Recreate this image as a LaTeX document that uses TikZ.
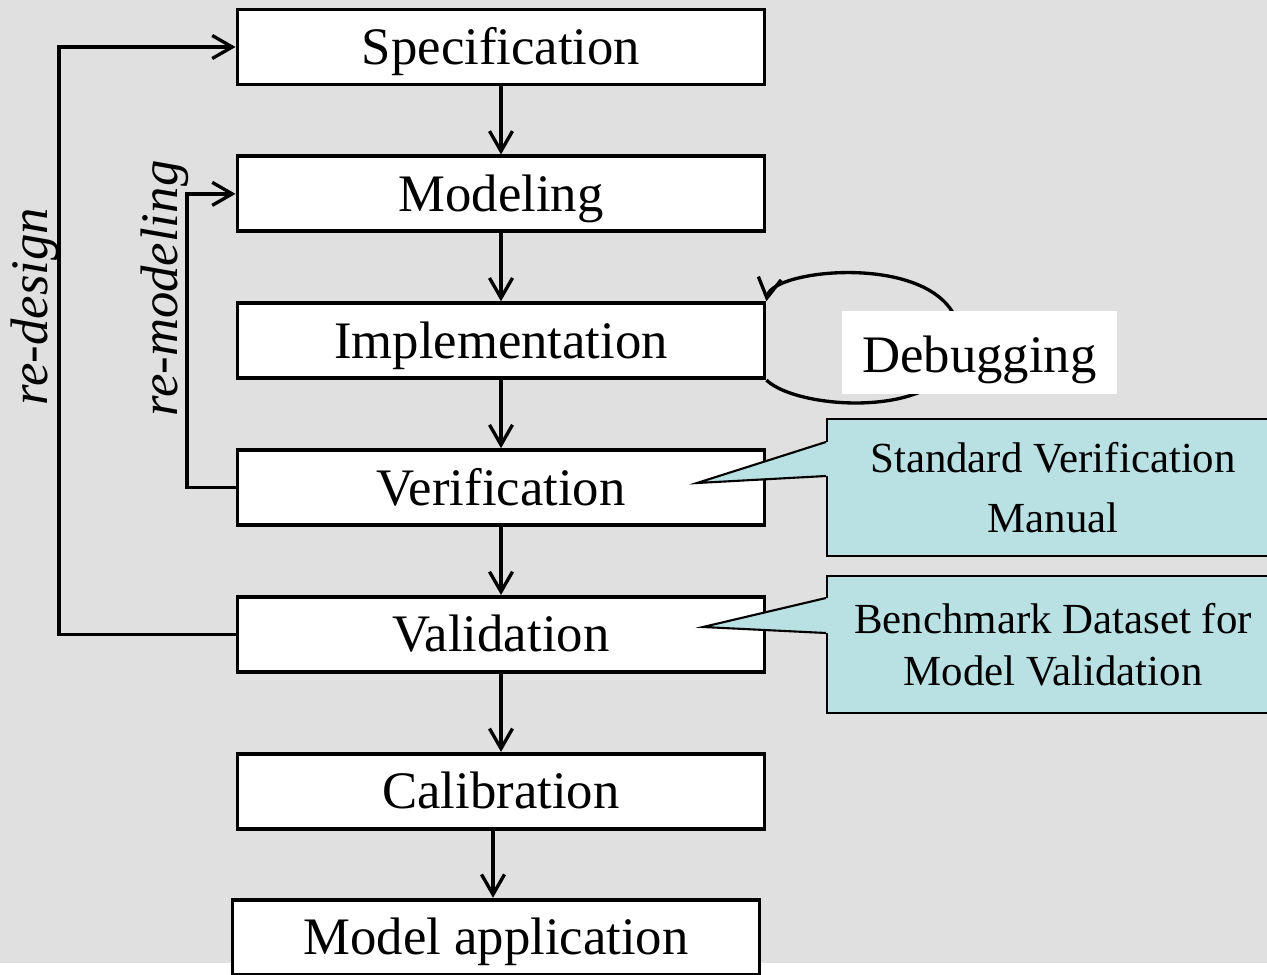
\documentclass[tikz,border=0pt]{standalone}
\usepackage{fontspec}
\setmainfont{Liberation Serif}
\usetikzlibrary{positioning}
\usetikzlibrary{arrows.meta}
\definecolor{bggray}{RGB}{224,224,224}
\definecolor{notecyan}{RGB}{185,224,227}

\begin{document}
\begin{tikzpicture}[
	stage/.style = {draw, fill=white, line width=2.2pt, minimum width=10.54cm, minimum height=1.5cm, inner sep=0pt, text height=1.0cm, text depth=0.3cm, font=\fontsize{30}{36}\selectfont},
	flow/.style = {line width=1.9pt, -{Straight Barb[length=4mm, width=4.6mm]}},
	note/.style = {draw, fill=notecyan, line width=1.2pt, minimum width=9.04cm, minimum height=2.74cm, align=center, inner sep=0pt},
	loopname/.style = {rotate=90, inner sep=0pt, font=\fontsize{30}{36}\selectfont\itshape}
	]

	% canvas
	\useasboundingbox (0,0) rectangle (25.34,-19.48);
	\fill [white] (0,0) rectangle (25.34,-19.48);
	\fill [bggray] (0,0) rectangle (25.34,-19.26);

	% main chain of stages
	\node [stage] (spec) at (10.02,-0.94) {Specification};
	\node [stage, below = 1.36cm of spec] (model) {Modeling};
	\node [stage, below = 1.36cm of model] (impl) {Implementation};
	\node [stage, below = 1.36cm of impl] (verif) {Verification};
	\node [stage, below = 1.36cm of verif] (valid) {Validation};
	\node [stage, below = 1.56cm of valid] (calib) {Calibration};
	\node [stage, below = 1.34cm of calib, xshift = -0.1cm] (app) {Model application};

	\draw [flow] (spec) -- (model);
	\draw [flow] (model) -- (impl);
	\draw [flow] (impl) -- (verif);
	\draw [flow] (verif) -- (valid);
	\draw [flow] (valid) -- (calib);
	\draw [flow] ([xshift=-0.16cm]calib.south) -- ([xshift=-0.16cm]calib.south |- app.north);

	% feedback loops on the left
	\draw [flow] (valid.west) -- ++(-3.53,0) |- (spec.west);
	\draw [flow] (verif.west) -- ++(-0.97,0) |- (model.west);
	\node [loopname] (redesign) at (0.70,-6.13) {re-design};
	\node [loopname] (remodel) at (3.30,-5.77) {re-modeling};

	% debugging loop
	\coordinate (loopEnd) at (19.2,-6.8);
	\draw [flow] (impl.south east) .. controls +(0.68,-0.64) and +(0,-1.6) .. (loopEnd) .. controls +(0,1.8) and +(0.1,0.7) .. (impl.north east);
	\node [fill=white, minimum width=5.5cm, minimum height=1.66cm, inner sep=0pt, text height=1.0cm, text depth=0.22cm, font=\fontsize{30}{36}\selectfont] (debug) at (19.59,-7.05) {Debugging};

	% callouts
	\node [note, font=\fontsize{24.4}{34}\selectfont] (svm) at (21.06,-9.75) {Standard Verification\\Manual};
	\coordinate (svmTip) at (13.94,-9.66);
	\fill [notecyan] ([yshift=0.91cm]svm.west) -- (svmTip) -- ([yshift=0.23cm]svm.west) -- ([xshift=0.1cm, yshift=0.23cm]svm.west) -- ([xshift=0.1cm, yshift=0.91cm]svm.west) -- cycle;
	\draw [line width=1.2pt] ([yshift=0.91cm]svm.west) -- (svmTip) -- ([yshift=0.23cm]svm.west);

	\node [note, font=\fontsize{24.4}{29.5}\selectfont] (bench) at (21.06,-12.89) {Benchmark Dataset for\\Model Validation};
	\coordinate (benchTip) at (14.06,-12.54);
	\fill [notecyan] ([yshift=0.93cm]bench.west) -- (benchTip) -- ([yshift=0.23cm]bench.west) -- ([xshift=0.1cm, yshift=0.23cm]bench.west) -- ([xshift=0.1cm, yshift=0.93cm]bench.west) -- cycle;
	\draw [line width=1.2pt] ([yshift=0.93cm]bench.west) -- (benchTip) -- ([yshift=0.23cm]bench.west);

\end{tikzpicture}
\end{document}
